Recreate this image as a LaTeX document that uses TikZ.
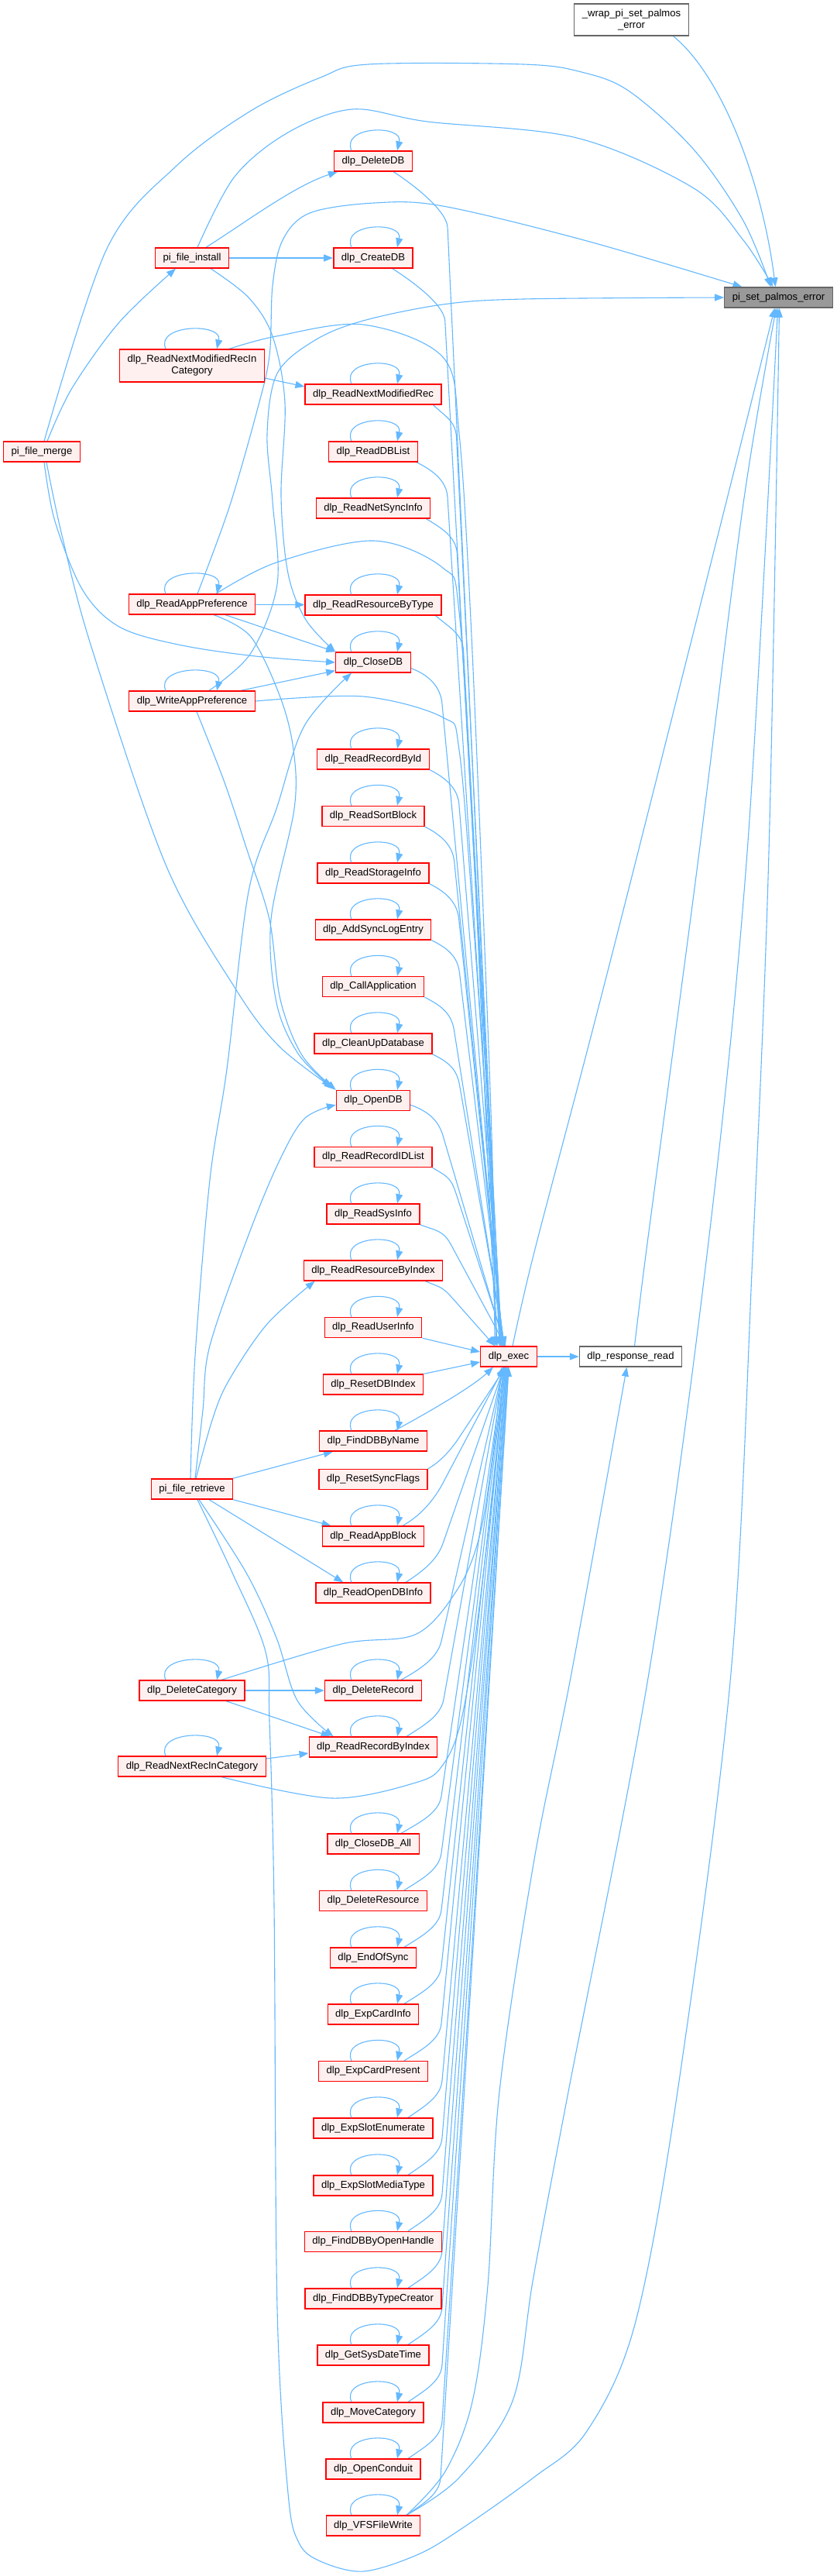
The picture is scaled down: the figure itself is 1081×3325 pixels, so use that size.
\documentclass[tikz,border=0pt]{standalone}
\usepackage{fontspec}
\setmainfont{Liberation Sans}
\usetikzlibrary{arrows.meta,calc,backgrounds}
\definecolor{edgec}{HTML}{63B8FF}
\definecolor{nfill}{HTML}{FFF0F0}
\definecolor{gborder}{HTML}{666666}
\definecolor{gfill}{HTML}{999999}
\tikzset{
  fn/.style={draw=red, fill=nfill, line width=1.3pt, font=\fontsize{13.1}{15}\selectfont, inner xsep=10pt, inner ysep=1pt, minimum height=26pt, align=center, text=black},
  fntwo/.style={fn, minimum height=42pt},
  wbox/.style={fn, draw=gborder, fill=white},
  gbox/.style={fn, draw=gborder, fill=gfill},
  conn/.style={draw=edgec, line width=1.1pt, -{Triangle[length=12pt,width=9pt]}},
  cplot/.style={conn, smooth, tension=0.55},
}
\newcommand\selfloop[3]{\draw[conn] ($(#1.north)+(#2,0)$) .. controls ($(#1.north)+(#2-14,-32)$) and ($(#1.north)+(#3+8,-34)$) .. ($(#1.north)+(#3,0)$);}
\newcommand\bendc[4]{\path #1 coordinate (bS); \path (bS) ++#2 coordinate (bB); \path #4 coordinate (bE); \draw[conn] (bS) .. controls ($(bS)+#3$) and ($(bB)!22pt!180:(bE)$) .. (bB) -- (bE);}
\begin{document}
\begin{tikzpicture}[x=1pt,y=-1pt]
\useasboundingbox (0,0) rectangle (1081,3325);
% ---------- nodes ----------
\node[wbox, minimum height=41pt] (wrap) at (815.5,25.5) {\_wrap\_pi\_set\_palmos\\\_error};
\node[gbox] (pse) at (1005.5,384) {pi\_set\_palmos\_error};
\node[fn] (exec) at (657,1751) {dlp\_exec};
\node[wbox] (RR) at (814.5,1751) {dlp\_response\_read};
\node[fn] (PFM) at (54,583) {pi\_file\_merge};
% left column
\node[fn] (PFI) at (248,333) {pi\_file\_install};
\node[fntwo] (RNMRIC) at (248,472) {dlp\_ReadNextModifiedRecIn\\Category};
\node[fn] (RAP) at (248,780) {dlp\_ReadAppPreference};
\node[fn] (WAP) at (248,905) {dlp\_WriteAppPreference};
\node[fn] (PFR) at (248,1922) {pi\_file\_retrieve};
\node[fn] (DC) at (248,2182) {dlp\_DeleteCategory};
\node[fn] (RNRIC) at (248,2280) {dlp\_ReadNextRecInCategory};
% center column
\node[fn] (DeleteDB) at (482,208) {dlp\_DeleteDB};
\node[fn] (CreateDB) at (482,333) {dlp\_CreateDB};
\node[fn] (RNMR) at (482,509) {dlp\_ReadNextModifiedRec};
\node[fn] (RDBL) at (482,583) {dlp\_ReadDBList};
\node[fn] (RNSI) at (482,656) {dlp\_ReadNetSyncInfo};
\node[fn] (RRBT) at (482,781) {dlp\_ReadResourceByType};
\node[fn] (CloseDB) at (482,855) {dlp\_CloseDB};
\node[fn] (RRBI) at (482,980) {dlp\_ReadRecordById};
\node[fn] (RSB) at (482,1053.5) {dlp\_ReadSortBlock};
\node[fn] (RSI) at (482,1127) {dlp\_ReadStorageInfo};
\node[fn] (ASLE) at (482,1200) {dlp\_AddSyncLogEntry};
\node[fn] (CA) at (482,1273.5) {dlp\_CallApplication};
\node[fn] (CUD) at (482,1347) {dlp\_CleanUpDatabase};
\node[fn] (OpenDB) at (482,1420.5) {dlp\_OpenDB};
\node[fn] (RRIDL) at (482,1493.5) {dlp\_ReadRecordIDList};
\node[fn] (RSysI) at (482,1567) {dlp\_ReadSysInfo};
\node[fn] (RResBI) at (482,1640) {dlp\_ReadResourceByIndex};
\node[fn] (RUI) at (482,1713.5) {dlp\_ReadUserInfo};
\node[fn] (RDBI) at (482,1787) {dlp\_ResetDBIndex};
\node[fn] (FDBBN) at (482,1860) {dlp\_FindDBByName};
\node[fn] (RSF) at (482,1909.5) {dlp\_ResetSyncFlags};
\node[fn] (RAB) at (482,1983) {dlp\_ReadAppBlock};
\node[fn] (RODBI) at (482,2056) {dlp\_ReadOpenDBInfo};
\node[fn] (DR) at (482,2182) {dlp\_DeleteRecord};
\node[fn] (RRBIdx) at (482,2255) {dlp\_ReadRecordByIndex};
\node[fn] (CDBA) at (482,2380) {dlp\_CloseDB\_All};
\node[fn] (DRes) at (482,2453.5) {dlp\_DeleteResource};
\node[fn] (EOS) at (482,2527) {dlp\_EndOfSync};
\node[fn] (ECI) at (482,2600) {dlp\_ExpCardInfo};
\node[fn] (ECP) at (482,2673.5) {dlp\_ExpCardPresent};
\node[fn] (ESE) at (482,2747) {dlp\_ExpSlotEnumerate};
\node[fn] (ESMT) at (482,2821) {dlp\_ExpSlotMediaType};
\node[fn] (FDBOH) at (482,2893.5) {dlp\_FindDBByOpenHandle};
\node[fn] (FDBTC) at (482,2967) {dlp\_FindDBByTypeCreator};
\node[fn] (GSDT) at (482,3040) {dlp\_GetSysDateTime};
\node[fn] (MC) at (482,3114) {dlp\_MoveCategory};
\node[fn] (OC) at (482,3187) {dlp\_OpenConduit};
\node[fn] (VFS) at (482,3260) {dlp\_VFSFileWrite};
% ---------- helper coordinates ----------
\coordinate (m1) at ([xshift=3pt]PFM.north);
\coordinate (m2) at ([xshift=7pt]PFM.north);
\coordinate (m3) at ([xshift=3pt]PFM.south);
\coordinate (m4) at ([xshift=6pt]PFM.south);
\coordinate (p1) at ([xshift=-10pt]pse.north);
\coordinate (p2) at ([xshift=-7pt]pse.north);
\coordinate (p3) at ([xshift=-47pt]pse.north);
\coordinate (q1) at ([xshift=-5pt]pse.south);
\coordinate (q2) at ([xshift=-3pt]pse.south);
\coordinate (q3) at ([xshift=-1pt]pse.south);
\coordinate (q4) at ([xshift=1pt]pse.south);
\coordinate (i1) at ([xshift=7pt]PFI.north);
\coordinate (i2) at ([xshift=24pt]PFI.south);
\coordinate (i3) at ([xshift=-21pt]PFI.south);
\coordinate (c1) at ([xshift=48pt]RNMRIC.north);
\coordinate (ra1) at ([xshift=7pt]RAP.north);
\coordinate (ra2) at ([xshift=31pt]RAP.north);
\coordinate (ra3) at ([xshift=28pt]RAP.south);
\coordinate (wa1) at ([xshift=22pt]WAP.north);
\coordinate (wa2) at ([xshift=6pt]WAP.south);
\coordinate (o1) at ($(OpenDB.north west)+(-6,-4)$);
\coordinate (o2) at ($(OpenDB.north west)+(-3,-2)$);
\coordinate (o3) at (OpenDB.north west);
\coordinate (o4) at ($(OpenDB.south west)+(0,-8)$);
\coordinate (r1) at ([xshift=4pt]PFR.north);
\coordinate (r2) at ([xshift=5pt]PFR.north);
\coordinate (r3) at ([xshift=-2pt]PFR.north);
\coordinate (r4) at ([xshift=9pt]PFR.south);
\coordinate (r5) at ([xshift=7pt]PFR.south);
\coordinate (rb1) at ($(RResBI.south west)+(15,0)$);
\coordinate (rx1) at ($(RRBIdx.north west)+(32,0)$);
\coordinate (cl1) at ([xshift=-28pt]CloseDB.south);
\coordinate (d1) at ([xshift=38pt]DC.north);
\coordinate (n1) at ([xshift=38pt]RNRIC.south);
\coordinate (e1) at ([xshift=-18pt]exec.north);
\coordinate (e2) at ([xshift=-16pt]exec.north);
\coordinate (e3) at ([xshift=-15pt]exec.north);
\coordinate (e4) at ([xshift=-9pt]exec.south);
\coordinate (e5) at ([xshift=-7pt]exec.south);
\coordinate (e6) at ([xshift=5pt]exec.north);
\coordinate (rr1) at ([xshift=5pt]RR.north);
\coordinate (rr2) at ([xshift=-5pt]RR.south);
\coordinate (v1) at ([xshift=43pt]VFS.north);
% ---------- edges ----------
\begin{scope}[on background layer]
\fill[white] (0,0) rectangle (1081,3325);
% into pi_set_palmos_error
\draw[conn] ([xshift=54pt]wrap.south) .. controls (935,100) and (985,240) .. ([xshift=-4pt]pse.north);
\draw[cplot] plot coordinates {(m1) (138,321) (228,214) (324,143) (414,100) (476,83) (676,83) (751,93) (813,118) (896,193) (960,285) (p1)};
\draw[cplot] plot coordinates {(i1) (303,228) (372,171) (455,141) (552,157) (745,178) (896,243) (960,310) (p2)};
\draw[cplot] plot coordinates {(ra1) (296,655) (332,530) (348,459) (352,369) (365,310) (400,275) (483,262) (572,266) (758,311) (p3)};
\draw[cplot] plot coordinates {(wa1) (324,843) (358,754) (352,647) (345,560) (358,482) (407,439) (469,414) (572,393) (676,386) (pse.west)};
\draw[cplot] plot coordinates {(r5) (300,2030) (343,2132) (348,2221) (354,2460) (358,2979) (372,3218) (386,3282) (414,3306) (469,3319) (538,3298) (593,3266) (689,3198) (758,3138) (820,3000) (875,2700) (944,2160) (972,1620) (993,1100) (q4)};
\draw[cplot] plot coordinates {(rr1) (834,1620) (870,1350) (903,1100) (960,650) (q2)};
\draw[cplot] plot coordinates {(e6) (689,1620) (760,1350) (824,1100) (950,600) (q1)};
\draw[cplot] plot coordinates {(v1) (593,3198) (662,3099) (689,2939) (734,2700) (838,2160) (913,1620) (965,1100) (q3)};
\draw[cplot] plot coordinates {(v1) (575,3190) (610,3100) (630,2950) (645,2700) (690,2400) (738,2160) (rr2)};
\draw[conn] (exec) -- (RR);
% pi_file_merge / pi_file_install
\draw[cplot] plot coordinates {(m2) (93,501) (154,416) (i3)};
\draw[conn] ([xshift=18pt]PFI.north) .. controls (320,285) and (380,240) .. ([xshift=-46pt]DeleteDB.south);
\draw[conn] (PFI) -- (CreateDB);
\draw[cplot] plot coordinates {(i2) (321,384) (352,434) (368,520) (363,640) (372,740) (395,800) (CloseDB.north west)};
\draw[cplot] plot coordinates {(m3) (71,673) (107,762) (154,809) (230,832) (330,847) (CloseDB.west)};
\draw[cplot] plot coordinates {(m4) (80,691) (118,835) (214,1116) (304,1276) (360,1350) (o2)};
% RNMRIC
\draw[conn] ($(RNMRIC.east)+(0,16)$) -- ($(RNMR.west)+(0,-10)$);
\draw[cplot] plot coordinates {(c1) (357,434) (469,419) (572,461) (593,560) (608,800) (625,1200) (636,1500) (e1)};
% RAP / WAP
\draw[conn] (RAP) -- (RRBT);
\draw[conn] ([xshift=43pt]RAP.south) -- (CloseDB.north west);
\draw[cplot] plot coordinates {(ra3) (324,822) (362,900) (379,968) (380,1044) (350,1187) (357,1294) (385,1360) (o1)};
\draw[cplot] plot coordinates {(ra2) (357,726) (483,698) (572,733) (593,790) (612,1100) (630,1500) (e2)};
\draw[conn] ([xshift=63pt]WAP.north) -- ($(CloseDB.south west)+(0,-3)$);
\draw[cplot] plot coordinates {(WAP.east) (469,899) (572,926) (593,968) (612,1200) (632,1500) (e3)};
\draw[cplot] plot coordinates {(wa2) (290,1010) (320,1100) (348,1187) (362,1290) (390,1362) (o3)};
% pi_file_retrieve
\draw[cplot] plot coordinates {(r1) (262,1820) (271,1737) (321,1594) (360,1500) (393,1444) (o4)};
\draw[cplot] plot coordinates {(r2) (275,1830) (296,1781) (345,1709) (rb1)};
\draw[cplot] plot coordinates {(r3) (252,1750) (271,1523) (293,1380) (321,1151) (357,1044) (393,937) (cl1)};
\draw[conn] ([xshift=-1pt]PFR.north east) -- ($(FDBBN.south west)+(18,0)$);
\draw[conn] (PFR.south east) -- ($(RAB.north west)+(12,0)$);
\draw[conn] ([xshift=22pt]PFR.south) -- ($(RODBI.north west)+(36,0)$);
\draw[cplot] plot coordinates {(r4) (318,2030) (357,2114) (384,2195) (rx1)};
% DeleteCategory / ReadNextRecInCategory
\draw[conn] (DC) -- (DR);
\draw[conn] ([xshift=44pt]DC.south) -- ($(RRBIdx.north west)+(28,0)$);
\draw[cplot] plot coordinates {(d1) (441,2122) (538,2109) (593,2048) (620,1980) (636,1880) (e4)};
\draw[conn] ($(RNRIC.east)+(0,-10)$) -- ($(RRBIdx.west)+(0,8)$);
\draw[cplot] plot coordinates {(n1) (429,2321) (540,2300) (572,2278) (593,2231) (610,2140) (628,2000) (642,1870) (e5)};
% center column -> dlp_exec (above)
\bendc{([xshift=-25pt]DeleteDB.south east)}{(70,72)}{(25,16)}{([xshift=-12pt]exec.north)}
\bendc{([xshift=-27pt]CreateDB.south east)}{(68,68)}{(25,16)}{([xshift=-11pt]exec.north)}
\bendc{([xshift=-11pt]RNMR.south east)}{(30,42)}{(14,14)}{([xshift=-10pt]exec.north)}
\bendc{([xshift=-2pt]RDBL.south east)}{(40,45)}{(20,10)}{([xshift=-10pt]exec.north)}
\bendc{([xshift=-6pt]RNSI.south east)}{(40,45)}{(20,12)}{([xshift=-9pt]exec.north)}
\bendc{([xshift=-8pt]RRBT.south east)}{(36,45)}{(16,14)}{([xshift=-9pt]exec.north)}
\bendc{($(CloseDB.south east)+(0,-6)$)}{(40,45)}{(22,8)}{([xshift=-8pt]exec.north)}
\bendc{(RRBI.south east)}{(38,45)}{(20,10)}{([xshift=-8pt]exec.north)}
\bendc{(RSB.south east)}{(38,45)}{(20,10)}{([xshift=-7pt]exec.north)}
\bendc{(RSI.south east)}{(38,45)}{(20,10)}{([xshift=-7pt]exec.north)}
\bendc{(ASLE.south east)}{(36,42)}{(20,10)}{([xshift=-6pt]exec.north)}
\bendc{(CA.south east)}{(38,42)}{(20,10)}{([xshift=-6pt]exec.north)}
\bendc{(CUD.south east)}{(35,40)}{(20,10)}{([xshift=-5pt]exec.north)}
\bendc{($(OpenDB.south east)+(0,-8)$)}{(42,40)}{(22,8)}{([xshift=-5pt]exec.north)}
\bendc{(RRIDL.south east)}{(30,32)}{(16,10)}{([xshift=-4pt]exec.north)}
\bendc{(RSysI.south east)}{(40,26)}{(20,8)}{([xshift=-4pt]exec.north)}
\bendc{([xshift=-23pt]RResBI.south east)}{(35,22)}{(18,8)}{([xshift=-18pt]exec.north)}
\draw[conn] (RUI.south east) -- ($(exec.west)+(0,-6)$);
\draw[conn] (RDBI.north east) -- ($(exec.west)+(0,7)$);
% center column -> dlp_exec (below)
\draw[conn] ([xshift=28pt]FDBBN.north) .. controls (555,1822) and (610,1790) .. ([xshift=-20pt]exec.south);
\bendc{(RSF.north east)}{(40,-40)}{(14,-8)}{([xshift=-4pt]exec.south)}
\bendc{([xshift=38pt]RAB.north)}{(52,-55)}{(25,-14)}{([xshift=-6pt]exec.south)}
\bendc{([xshift=42pt]RODBI.north)}{(48,-50)}{(22,-14)}{([xshift=-6pt]exec.south)}
\bendc{([xshift=36pt]DR.north)}{(52,-50)}{(25,-14)}{([xshift=-7pt]exec.south)}
\bendc{([xshift=43pt]RRBIdx.north)}{(48,-48)}{(22,-14)}{([xshift=-7pt]exec.south)}
\bendc{([xshift=36pt]CDBA.north)}{(52,-48)}{(24,-14)}{([xshift=-6pt]exec.south)}
\bendc{([xshift=40pt]DRes.north)}{(48,-48)}{(22,-14)}{([xshift=-5pt]exec.south)}
\bendc{([xshift=40pt]EOS.north)}{(48,-48)}{(22,-14)}{([xshift=-5pt]exec.south)}
\bendc{([xshift=40pt]ECI.north)}{(48,-48)}{(22,-14)}{([xshift=-4pt]exec.south)}
\bendc{([xshift=40pt]ECP.north)}{(48,-48)}{(22,-14)}{([xshift=-4pt]exec.south)}
\bendc{([xshift=45pt]ESE.north)}{(44,-48)}{(20,-14)}{([xshift=-3pt]exec.south)}
\bendc{([xshift=45pt]ESMT.north)}{(44,-48)}{(20,-14)}{([xshift=-3pt]exec.south)}
\bendc{([xshift=45pt]FDBOH.north)}{(44,-48)}{(20,-14)}{([xshift=-2pt]exec.south)}
\bendc{([xshift=45pt]FDBTC.north)}{(44,-48)}{(20,-14)}{([xshift=-2pt]exec.south)}
\bendc{([xshift=45pt]GSDT.north)}{(44,-48)}{(20,-14)}{([xshift=-1pt]exec.south)}
\bendc{([xshift=45pt]MC.north)}{(44,-48)}{(20,-14)}{([xshift=-1pt]exec.south)}
\bendc{([xshift=45pt]OC.north)}{(44,-48)}{(20,-14)}{([xshift=0pt]exec.south)}
\bendc{(v1)}{(44,-48)}{(20,-14)}{([xshift=0pt]exec.south)}
\end{scope}
% ---------- self loops ----------
\foreach \n in {DeleteDB,CreateDB,RNMR,RDBL,RNSI,RRBT,CloseDB,RRBI,RSB,RSI,ASLE,CA,CUD,OpenDB,RRIDL,RSysI,RResBI,RUI,RDBI,FDBBN,RAB,RODBI,DR,RRBIdx,CDBA,DRes,EOS,ECI,ECP,ESE,ESMT,FDBOH,FDBTC,GSDT,MC,OC,VFS}{\selfloop{\n}{-28}{31}}
\foreach \n in {RNMRIC,RAP,WAP,DC,RNRIC}{\selfloop{\n}{-34}{32}}
\end{tikzpicture}
\end{document}
